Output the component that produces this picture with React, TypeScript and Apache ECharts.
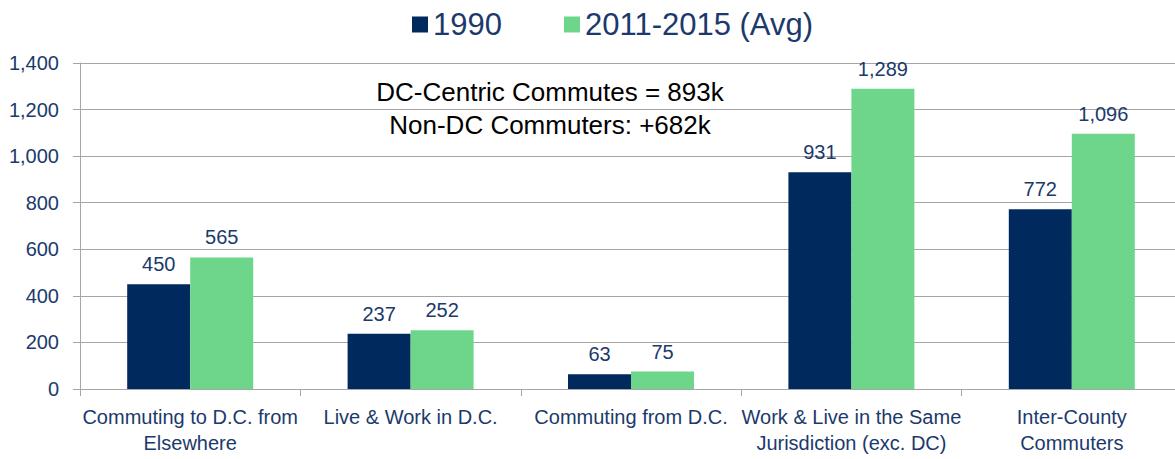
import React, { useEffect, useRef } from "react";
import * as echarts from "echarts";

const categories = [
  "Commuting to D.C. from\nElsewhere",
  "Live & Work in D.C.",
  "Commuting from D.C.",
  "Work & Live in the Same\nJurisdiction (exc. DC)",
  "Inter-County\nCommuters",
];
const series1990 = [450, 237, 63, 931, 772];
const series2011 = [565, 252, 75, 1289, 1096];
const seriesNames = ["1990", "2011-2015 (Avg)"];
const annotationLines = ["DC-Centric Commutes = 893k", "Non-DC Commuters: +682k"];

const NAVY = "#00295E";
const GREEN = "#6DD68A";
const TEXT = "#1B3A6B";
const GRID = "#A6A6A6";
const NARROW = '"Liberation Sans Narrow", "Arial Narrow", "Liberation Sans", Arial, sans-serif';
const SANS = '"Liberation Sans", Arial, sans-serif';

const fmt = (v: number) => v.toLocaleString("en-US");

export default function App() {
  const ref = useRef<HTMLDivElement>(null);
  useEffect(() => {
    if (!ref.current) return;
    const chart = echarts.init(ref.current, undefined, { renderer: "svg" });
    const labelCfg = {
      show: true,
      position: "top" as const,
      distance: 10,
      color: TEXT,
      fontFamily: NARROW,
      fontSize: 20,
      formatter: (p: any) => fmt(p.value),
    };
    chart.setOption({
      animation: false,
      legend: {
        left: 407,
        top: 4,
        itemWidth: 16,
        itemHeight: 16,
        itemGap: 62,
        icon: "rect",
        textStyle: {
          color: TEXT,
          fontFamily: SANS,
          fontSize: 31,
        },
        data: seriesNames,
      },
      graphic: annotationLines.map((t, i) => ({
        type: "text",
        x: 550,
        y: 92 + i * 33,
        style: {
          text: t,
          fill: "#000",
          fontFamily: SANS,
          fontSize: 26,
          textAlign: "center",
          textVerticalAlign: "middle",
        },
      })),
      grid: { left: 80, right: 18, top: 63, bottom: 70 },
      xAxis: {
        type: "category",
        data: categories,
        axisLine: { lineStyle: { color: GRID, width: 1 } },
        axisTick: { show: true, length: 7, lineStyle: { color: GRID } },
        axisLabel: {
          interval: 0,
          color: TEXT,
          fontFamily: NARROW,
          fontSize: 20,
          lineHeight: 26,
          margin: 15,
        },
      },
      yAxis: {
        type: "value",
        min: 0,
        max: 1400,
        interval: 200,
        axisLine: { show: true, lineStyle: { color: GRID, width: 1 } },
        axisTick: { show: true, length: 7, lineStyle: { color: GRID } },
        splitLine: { show: true, lineStyle: { color: GRID, width: 1 } },
        axisLabel: {
          color: TEXT,
          fontFamily: NARROW,
          fontSize: 20,
          margin: 21,
          formatter: (v: number) => fmt(v),
        },
      },
      series: [
        {
          name: seriesNames[0],
          type: "bar",
          data: series1990,
          barWidth: 63,
          barGap: "0%",
          itemStyle: { color: NAVY },
          label: labelCfg,
        },
        {
          name: seriesNames[1],
          type: "bar",
          data: series2011,
          barWidth: 63,
          barGap: "0%",
          itemStyle: { color: GREEN },
          label: labelCfg,
        },
      ],
    });
    return () => chart.dispose();
  }, []);
  return (
    <div
      style={{ position: "absolute", left: 0, top: 0, width: 1175, height: 459, overflow: "hidden", background: "#fff" }}
    >
      <div ref={ref} style={{ width: 1200, height: 459 }} />
    </div>
  );
}
